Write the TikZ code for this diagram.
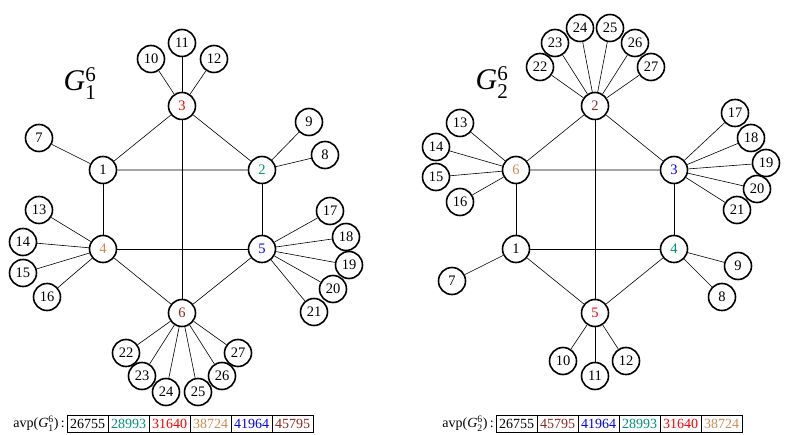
\documentclass[tikz,border=0pt]{standalone}
\usepackage{amsmath}
\usepackage{fontspec}
\setmainfont{Liberation Serif}
\usetikzlibrary{positioning}
\definecolor{vteal}{RGB}{0,145,120}
\definecolor{vtan}{RGB}{205,140,80}
\definecolor{vbrown}{RGB}{140,40,30}
\definecolor{vred}{RGB}{255,0,0}
\definecolor{vblue}{RGB}{0,0,255}
\newcommand{\gname}[1]{\textit{G}$^{\text{6}}_{\text{#1}}$}

\begin{document}
\begin{tikzpicture}[x=1pt, y=-1pt,
                    vertex/.style={circle, draw, line width=1.6pt, fill=white,
                                   minimum size=27pt, inner sep=0pt,
                                   font=\fontsize{14.5}{16}\selectfont},
                    cell/.style={rectangle, draw, line width=0.7pt, outer sep=0pt,
                                 minimum width=41pt, minimum height=17pt, inner sep=0pt,
                                 font=\fontsize{14}{16}\selectfont},
                    line width=0.6pt]
\useasboundingbox (0,0) rectangle (787,435);

% Left graph
\node at (80,84) {\fontsize{30}{34}\selectfont\gname{1}};
\node (a1) [vertex] at (103,170) {1};
\node (a2) [vertex, text=vteal] at (262,170) {2};
\node (a3) [vertex, text=vred] at (182,106) {3};
\node (a4) [vertex, text=vtan] at (103,249) {4};
\node (a5) [vertex, text=vblue] at (262,249) {5};
\node (a6) [vertex, text=vbrown] at (182,313) {6};
\node (a7) [vertex] at (39,138) {7};
\node (a8) [vertex] at (325,155) {8};
\node (a9) [vertex] at (309,122) {9};
\node (a10) [vertex] at (151,59) {10};
\node (a11) [vertex] at (182,43) {11};
\node (a12) [vertex] at (214,59) {12};
\node (a13) [vertex] at (39,210) {13};
\node (a14) [vertex] at (23,242) {14};
\node (a15) [vertex] at (23,273) {15};
\node (a16) [vertex] at (47,297) {16};
\node (a17) [vertex] at (330,211) {17};
\node (a18) [vertex] at (346,237) {18};
\node (a19) [vertex] at (349,265) {19};
\node (a20) [vertex] at (333,289) {20};
\node (a21) [vertex] at (314,312) {21};
\node (a22) [vertex] at (126,353) {22};
\node (a23) [vertex] at (142,376) {23};
\node (a24) [vertex] at (166,392) {24};
\node (a25) [vertex] at (198,392) {25};
\node (a26) [vertex] at (222,376) {26};
\node (a27) [vertex] at (238,353) {27};

\draw (a1) -- (a3) -- (a2) -- (a1);
\draw (a3) -- (a6);
\draw (a1) -- (a4) -- (a5) -- (a2);
\draw (a4) -- (a6) -- (a5);
\draw (a1) -- (a7);
\draw (a2) -- (a8);  \draw (a2) -- (a9);
\draw (a3) -- (a10); \draw (a3) -- (a11); \draw (a3) -- (a12);
\draw (a4) -- (a13); \draw (a4) -- (a14); \draw (a4) -- (a15); \draw (a4) -- (a16);
\draw (a5) -- (a17); \draw (a5) -- (a18); \draw (a5) -- (a19); \draw (a5) -- (a20); \draw (a5) -- (a21);
\draw (a6) -- (a22); \draw (a6) -- (a23); \draw (a6) -- (a24);
\draw (a6) -- (a25); \draw (a6) -- (a26); \draw (a6) -- (a27);

% Right graph
\node at (492,83) {\fontsize{30}{34}\selectfont\gname{2}};
\node (b1) [vertex] at (516,249) {1};
\node (b2) [vertex, text=vbrown] at (595,106) {2};
\node (b3) [vertex, text=vblue] at (674,170) {3};
\node (b4) [vertex, text=vteal] at (674,249) {4};
\node (b5) [vertex, text=vred] at (595,313) {5};
\node (b6) [vertex, text=vtan] at (516,170) {6};
\node (b7) [vertex] at (452,281) {7};
\node (b8) [vertex] at (722,297) {8};
\node (b9) [vertex] at (738,266) {9};
\node (b10) [vertex] at (563,361) {10};
\node (b11) [vertex] at (595,376) {11};
\node (b12) [vertex] at (626,361) {12};
\node (b13) [vertex] at (460,123) {13};
\node (b14) [vertex] at (436,147) {14};
\node (b15) [vertex] at (436,177) {15};
\node (b16) [vertex] at (460,202) {16};
\node (b17) [vertex] at (735,113) {17};
\node (b18) [vertex] at (751,138) {18};
\node (b19) [vertex] at (766,163) {19};
\node (b20) [vertex] at (757,189) {20};
\node (b21) [vertex] at (737,210) {21};
\node (b22) [vertex] at (540,67) {22};
\node (b23) [vertex] at (555,43) {23};
\node (b24) [vertex] at (580,28) {24};
\node (b25) [vertex] at (610,28) {25};
\node (b26) [vertex] at (635,43) {26};
\node (b27) [vertex] at (651,67) {27};

\draw (b6) -- (b2) -- (b3) -- (b6);
\draw (b2) -- (b5);
\draw (b6) -- (b1) -- (b4) -- (b3);
\draw (b1) -- (b5) -- (b4);
\draw (b1) -- (b7);
\draw (b4) -- (b8);  \draw (b4) -- (b9);
\draw (b5) -- (b10); \draw (b5) -- (b11); \draw (b5) -- (b12);
\draw (b6) -- (b13); \draw (b6) -- (b14); \draw (b6) -- (b15); \draw (b6) -- (b16);
\draw (b3) -- (b17); \draw (b3) -- (b18); \draw (b3) -- (b19); \draw (b3) -- (b20); \draw (b3) -- (b21);
\draw (b2) -- (b22); \draw (b2) -- (b23); \draw (b2) -- (b24);
\draw (b2) -- (b25); \draw (b2) -- (b26); \draw (b2) -- (b27);

% Tables
\node (ta1) [cell] at (87.5,423.5) {26755};
\node (ta2) [cell, right=0pt of ta1, text=vteal] {28993};
\node (ta3) [cell, right=0pt of ta2, text=vred] {31640};
\node (ta4) [cell, right=0pt of ta3, text=vtan] {38724};
\node (ta5) [cell, right=0pt of ta4, text=vblue] {41964};
\node (ta6) [cell, right=0pt of ta5, text=vbrown] {45795};
\node (la) [left=2pt of ta1, inner sep=0pt, font=\fontsize{14}{16}\selectfont] {avp(\gname{1})\,:};

\node (tb1) [cell] at (516.5,423.5) {26755};
\node (tb2) [cell, right=0pt of tb1, text=vbrown] {45795};
\node (tb3) [cell, right=0pt of tb2, text=vblue] {41964};
\node (tb4) [cell, right=0pt of tb3, text=vteal] {28993};
\node (tb5) [cell, right=0pt of tb4, text=vred] {31640};
\node (tb6) [cell, right=0pt of tb5, text=vtan] {38724};
\node (lb) [left=2pt of tb1, inner sep=0pt, font=\fontsize{14}{16}\selectfont] {avp(\gname{2})\,:};

\end{tikzpicture}
\end{document}
